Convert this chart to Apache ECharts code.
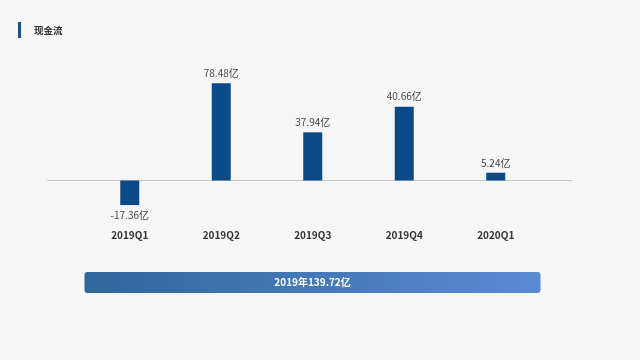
<!DOCTYPE html>
<html>
<head>
<meta charset="utf-8">
<script src="https://cdn.jsdelivr.net/npm/echarts@6/dist/echarts.min.js"></script>
<style>
html,body{margin:0;padding:0;background:#f6f6f6;}
#c{width:640px;height:360px;}
</style>
</head>
<body>
<div id="c"></div>
<script>
const titleText = '现金流';
const categories = ['2019Q1', '2019Q2', '2019Q3', '2019Q4', '2020Q1'];
// bar heights (in the same units as the labels)
const barValues = [-19.8, 78.48, 38.9, 59.6, 6.3];
// value labels printed above/below each bar
const labelValues = [-17.36, 78.48, 37.94, 40.66, 5.24];
const unit = '亿';
const summaryText = '2019年139.72亿';

const FONT = '"Noto Sans CJK SC", "Noto Sans", sans-serif';
const chart = echarts.init(document.getElementById('c'), null, {renderer: 'canvas'});

const option = {
  backgroundColor: '#f6f6f6',
  animation: false,
  grid: {left: 84, right: 98.5, top: 56.6, bottom: 142.3},
  xAxis: {
    type: 'category',
    data: categories,
    axisLine: {show: false},
    axisTick: {show: false},
    axisLabel: {
      margin: 13,
      fontFamily: FONT, fontSize: 10, fontWeight: 'bold', color: '#333'
    }
  },
  yAxis: {
    type: 'value', min: -30, max: 100,
    show: false,
    splitLine: {show: false}
  },
  series: [{
    type: 'bar',
    barWidth: 19,
    itemStyle: {color: '#0b4a89'},
    data: barValues.map((v, i) => ({
      value: v,
      label: {
        show: true,
        position: v < 0 ? 'bottom' : 'top',
        distance: 5,
        formatter: () => labelValues[i] + unit,
        fontFamily: FONT, fontSize: 10, color: '#444'
      }
    }))
  }],
  graphic: [
    {type: 'rect', shape: {x: 18, y: 22, width: 3, height: 16}, style: {fill: '#1d4f86'}},
    {type: 'text', style: {x: 34, y: 30, text: titleText, textVerticalAlign: 'middle',
      font: 'bold 9.5px ' + FONT, fill: '#333'}}
  ]
};
chart.setOption(option);

const zeroY = chart.convertToPixel({yAxisIndex: 0}, 0);
chart.setOption({
  graphic: [
    {type: 'rect', shape: {x: 18, y: 22, width: 3, height: 16}, style: {fill: '#1d4f86'}},
    {type: 'text', style: {x: 34, y: 30, text: titleText, textVerticalAlign: 'middle',
      font: 'bold 9.5px ' + FONT, fill: '#333'}},
    {type: 'line', shape: {x1: 47, y1: zeroY, x2: 572, y2: zeroY},
      style: {stroke: '#c8c8c8', lineWidth: 1.2}, z: 0},
    {type: 'rect', shape: {x: 84.5, y: 272, width: 456, height: 21, r: 3},
      style: {fill: new echarts.graphic.LinearGradient(0, 0, 1, 0, [
        {offset: 0, color: '#2e679c'}, {offset: 1, color: '#5b8ad5'}])}},
    {type: 'text', style: {x: 312.5, y: 282.5, text: summaryText, textAlign: 'center',
      textVerticalAlign: 'middle', font: 'bold 10px ' + FONT, fill: '#fff'}}
  ]
});
</script>
</body>
</html>
